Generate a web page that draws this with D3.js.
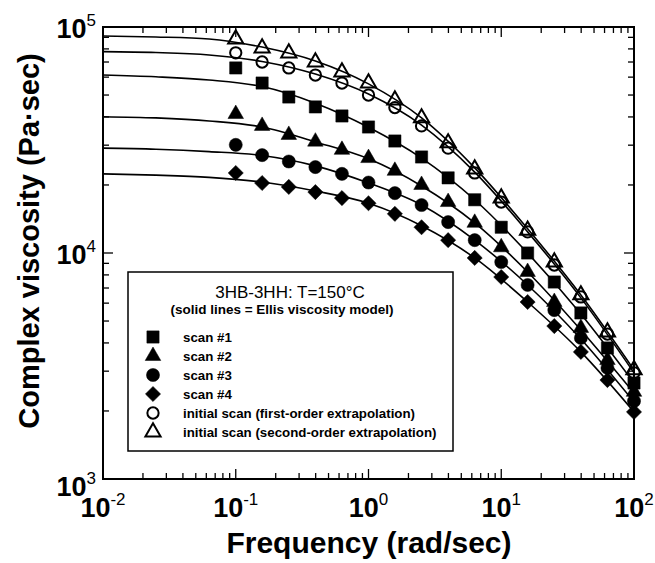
<!doctype html>
<html>
<head>
<script src="https://d3js.org/d3.v7.min.js"></script>
<style>
  body { margin: 0; background: #fff; }
  svg text { font-family: "Liberation Sans", Arial, Helvetica, sans-serif; fill: #000; }
</style>
</head>
<body>
<svg id="chart" width="655" height="563"></svg>
<script>
// measured frequencies (rad/sec)
var freq = [0.1, 0.158, 0.251, 0.398, 0.631, 1, 1.58, 2.51, 3.98, 6.31, 10, 15.8, 25.1, 39.8, 63.1, 100];
// complex viscosity (Pa.sec)
var scan1 = [65900, 56500, 49000, 44300, 40400, 36100, 31300, 26600, 21500, 17200, 13000, 10000, 7440, 5430, 3800, 2660];
var scan2 = [41200, 36500, 33300, 31100, 28600, 26300, 23100, 20000, 16800, 13600, 10600, 8240, 6070, 4660, 3360, 2430];
var scan3 = [30100, 27100, 25400, 24000, 22400, 20500, 18400, 16300, 13700, 11400, 9120, 7220, 5590, 4210, 3100, 2210];
var scan4 = [22600, 20400, 19600, 18600, 17500, 16600, 14900, 13000, 11400, 9510, 7830, 6070, 4750, 3650, 2740, 1980];
var initFirst = [76900, 70000, 65900, 61300, 56500, 50000, 44000, 36500, 29100, 22600, 16800, 12400, 8850, 6390, 4380, 2950];
var initSecond = [88500, 80700, 76700, 70000, 63200, 56500, 47500, 39600, 30700, 23500, 17500, 12600, 9120, 6520, 4470, 3040];

// Ellis model lines
var fitFreq = [0.01, 0.025, 0.063, 0.158, 0.398, 1, 2.51, 6.31, 15.8, 39.8, 100];
var fitSecond = [91200, 90300, 88500, 81500, 70700, 56000, 39600, 23800, 12800, 6520, 3040];
var fitFirst = [77800, 77100, 75200, 70400, 61900, 50500, 36800, 22800, 12400, 6330, 2950];
var fitScan1 = [61300, 60200, 58300, 54500, 46000, 36000, 26300, 17200, 10000, 5370, 2660];
var fitScan2 = [40100, 39600, 38400, 36100, 31000, 26100, 19800, 13600, 8240, 4560, 2400];
var fitScan3 = [29100, 28800, 28100, 27000, 24300, 20400, 16300, 11400, 7220, 4160, 2190];
var fitScan4 = [22400, 22100, 21600, 20600, 18800, 16600, 13200, 9510, 6070, 3650, 1980];

var xDecades = [0.01, 0.1, 1, 10, 100];
var xExp = ["-2", "-1", "0", "1", "2"];
var yDecades = [1000, 10000, 100000];
var yExp = ["3", "4", "5"];

var legendTitle = "3HB-3HH: T=150\u00b0C";
var legendSub = "(solid lines = Ellis viscosity model)";
var seriesNames = ["scan #1", "scan #2", "scan #3", "scan #4",
  "initial scan (first-order extrapolation)", "initial scan (second-order extrapolation)"];

var svg = d3.select("#chart");
var L = 103, R = 634, T = 27, B = 479;
var x = d3.scaleLog().domain([0.01, 100]).range([L, R]);
var y = d3.scaleLog().domain([1000, 100000]).range([B, T]);

// ticks, all four sides, pointing inward
var g = svg.append("g").attr("stroke", "#000").attr("stroke-width", 1.3);
var xt = [], yt = [];
for (var d = 0.01; d < 100; d *= 10) for (var k = 1; k < 10; k++) xt.push({v: k * d, major: k == 1});
xt.push({v: 100, major: true});
for (var d = 1000; d < 100000; d *= 10) for (var k = 1; k < 10; k++) yt.push({v: k * d, major: k == 1});
yt.push({v: 100000, major: true});
xt.forEach(function(t) {
  var len = t.major ? 10 : 6, px = x(t.v);
  g.append("line").attr("x1", px).attr("x2", px).attr("y1", B).attr("y2", B - len);
  g.append("line").attr("x1", px).attr("x2", px).attr("y1", T).attr("y2", T + len);
});
yt.forEach(function(t) {
  var len = t.major ? 10 : 6, py = y(t.v);
  g.append("line").attr("y1", py).attr("y2", py).attr("x1", L).attr("x2", L + len);
  g.append("line").attr("y1", py).attr("y2", py).attr("x1", R).attr("x2", R - len);
});

svg.append("rect").attr("x", L).attr("y", T).attr("width", R - L).attr("height", B - T)
  .attr("fill", "none").attr("stroke", "#000").attr("stroke-width", 2);

// tick labels
xDecades.forEach(function(v, i) {
  var t = svg.append("text").attr("x", x(v)).attr("y", 517).attr("text-anchor", "middle")
    .attr("font-size", 27).attr("font-weight", "bold").text("10");
  t.append("tspan").attr("dy", -12).attr("font-size", 17).attr("font-weight", "normal").text(xExp[i]);
});
yDecades.forEach(function(v, i) {
  var t = svg.append("text").attr("x", 96).attr("y", y(v) + (i == 0 ? 17 : 11)).attr("text-anchor", "end")
    .attr("font-size", 27).attr("font-weight", "bold").text("10");
  t.append("tspan").attr("dy", -12).attr("font-size", 17).attr("font-weight", "normal").text(yExp[i]);
});

// axis titles
svg.append("text").attr("transform", "translate(39,241) rotate(-90)").attr("text-anchor", "middle")
  .attr("font-size", 29).attr("font-weight", "bold").text("Complex viscosity (Pa\u00b7sec)");
svg.append("text").attr("x", 369).attr("y", 553).attr("text-anchor", "middle")
  .attr("font-size", 30).attr("font-weight", "bold").text("Frequency (rad/sec)");

// model lines
var line = d3.line().x(function(d) { return x(d[0]); }).y(function(d) { return y(d[1]); }).curve(d3.curveMonotoneX);
[fitSecond, fitFirst, fitScan1, fitScan2, fitScan3, fitScan4].forEach(function(f) {
  svg.append("path").datum(d3.zip(fitFreq, f)).attr("d", line)
    .attr("fill", "none").attr("stroke", "#000").attr("stroke-width", 1.6);
});

// markers
var shapes = [
  {type: d3.symbolSquare, size: 150, rot: 0, fill: "#000"},
  {type: d3.symbolTriangle, size: 105, rot: 0, fill: "#000"},
  {type: d3.symbolCircle, size: 135, rot: 0, fill: "#000"},
  {type: d3.symbolSquare, size: 115, rot: 45, fill: "#000"},
  {type: d3.symbolCircle, size: 100, rot: 0, fill: "none"},
  {type: d3.symbolTriangle, size: 100, rot: 0, fill: "none"}
];
function marker(sel, s) {
  sel.attr("d", d3.symbol().type(s.type).size(s.size)())
    .attr("fill", s.fill).attr("stroke", "#000").attr("stroke-width", s.fill == "none" ? 2 : 0.5);
}
[scan1, scan2, scan3, scan4, initFirst, initSecond].forEach(function(vals, i) {
  svg.append("g").selectAll("path").data(d3.zip(freq, vals)).enter().append("path")
    .attr("transform", function(d) { return "translate(" + x(d[0]) + "," + y(d[1]) + ") rotate(" + shapes[i].rot + ")"; })
    .call(marker, shapes[i]);
});

// legend
var lg = svg.append("g");
lg.append("rect").attr("x", 128).attr("y", 272).attr("width", 325).attr("height", 179)
  .attr("fill", "#fff").attr("stroke", "#000").attr("stroke-width", 1.5);
lg.append("text").attr("x", 290).attr("y", 298).attr("text-anchor", "middle").attr("font-size", 17).text(legendTitle);
lg.append("text").attr("x", 282).attr("y", 314).attr("text-anchor", "middle").attr("font-size", 13.5)
  .attr("font-weight", "bold").text(legendSub);
var rowY = [337, 356, 375, 394, 413, 432];
seriesNames.forEach(function(name, i) {
  lg.append("path").attr("transform", "translate(153," + rowY[i] + ") rotate(" + shapes[i].rot + ")").call(marker, shapes[i]);
  lg.append("text").attr("x", 183).attr("y", rowY[i] + 4.5).attr("font-size", 13.3).attr("font-weight", "bold").text(name);
});
</script>
</body>
</html>
